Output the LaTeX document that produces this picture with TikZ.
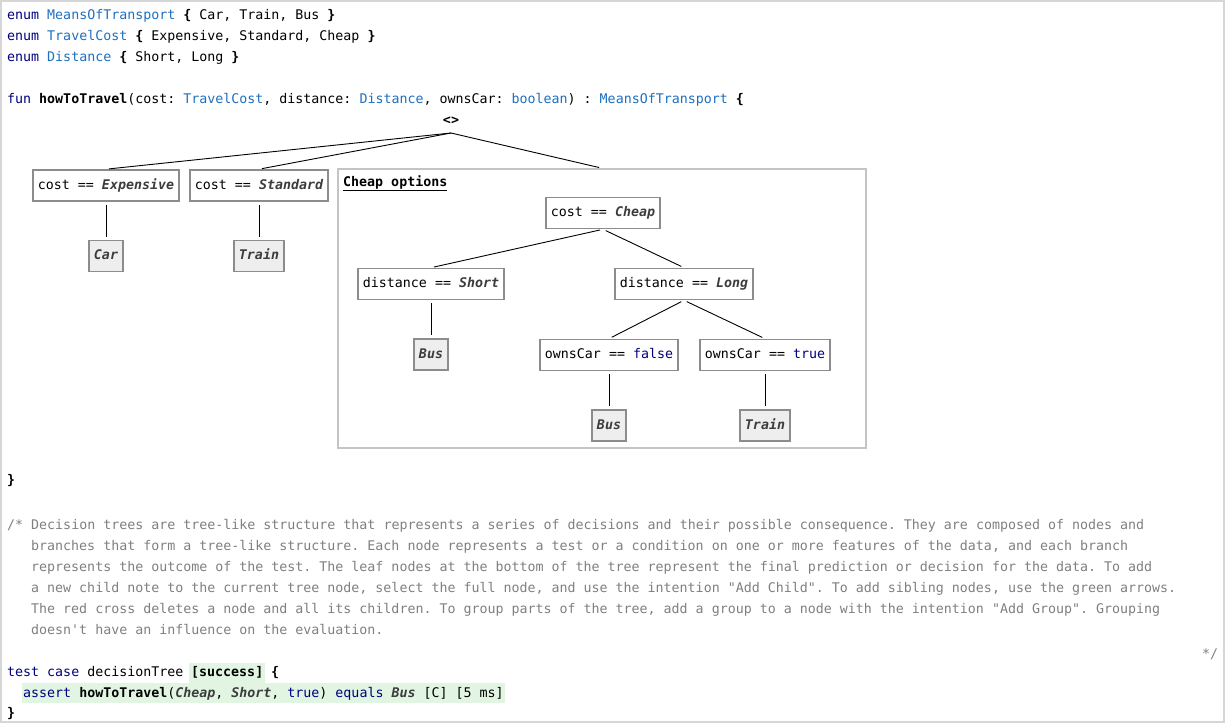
\documentclass[tikz,border=0pt]{standalone}
\usepackage{fontspec}
\setmonofont{DejaVu Sans Mono}
\usetikzlibrary{positioning}
\usepackage{xcolor}
\definecolor{kwnavy}{RGB}{0,0,128}
\definecolor{refblue}{RGB}{30,112,192}
\definecolor{enumgray}{RGB}{60,60,60}
\definecolor{commentgray}{RGB}{128,128,128}
\definecolor{boxgray}{RGB}{140,140,140}
\definecolor{leafgray}{RGB}{238,238,238}
\definecolor{groupgray}{RGB}{196,196,196}
\definecolor{framegray}{RGB}{214,214,214}
\definecolor{okgreen}{RGB}{226,245,226}
\newcommand{\codefont}{\ttfamily\fontsize{13.3}{21}\selectfont}
\newcommand{\kw}[1]{\textcolor{kwnavy}{#1}}
\newcommand{\tref}[1]{\textcolor{refblue}{#1}}
\newcommand{\eref}[1]{\textcolor{enumgray}{\bfseries\itshape #1}}

\begin{document}
\frenchspacing
\begin{tikzpicture}[x=1pt, y=-1pt,
    node distance=38pt,
    codeline/.style={anchor=base west, inner sep=0pt, font=\codefont},
    condbox/.style={rectangle, draw=boxgray, line width=1.6pt, fill=white, font=\codefont,
                    inner xsep=5pt, inner ysep=0pt, minimum height=31pt,
                    text height=9.5pt, text depth=2.5pt},
    leafbox/.style={condbox, fill=leafgray},
    okmark/.style={fill=okgreen, inner xsep=2pt, inner ysep=3pt, text height=11pt, text depth=3pt},
    branch/.style={line width=0.9pt, shorten <=3pt, shorten >=3pt}
]
    \useasboundingbox[fill=white] (0,0) rectangle (1226,726);
    \draw[framegray, line width=2pt] (1,1) rectangle (1224,722);

    % declarations
    \node[codeline] (enumA) at (7,19.5) {\kw{enum} \tref{MeansOfTransport} \textbf{\{} Car, Train, Bus \textbf{\}}};
    \node[codeline] (enumB) at (7,40.5) {\kw{enum} \tref{TravelCost} \textbf{\{} Expensive, Standard, Cheap \textbf{\}}};
    \node[codeline] (enumC) at (7,61.5) {\kw{enum} \tref{Distance} \textbf{\{} Short, Long \textbf{\}}};
    \node[codeline] (fun) at (7,103.5) {\kw{fun} \textbf{howToTravel}(cost: \tref{TravelCost}, distance: \tref{Distance}, ownsCar: \tref{boolean}) : \tref{MeansOfTransport} \textbf{\{}};

    % decision tree
    \node[font=\codefont\bfseries, inner sep=0pt] (root) at (451,121) {<>};
    \node[condbox] (cexp) at (106,185.5) {cost == \eref{Expensive}};
    \node[condbox] (cstd) at (259,185.5) {cost == \eref{Standard}};
    \node[leafbox, below=of cexp] (car) {\eref{Car}};
    \node[leafbox, below=of cstd] (train) {\eref{Train}};

    \node[draw=groupgray, line width=1.6pt, minimum width=528pt, minimum height=279pt, inner sep=0pt] (grp) at (602,308.5) {};
    \node[codeline, font=\codefont\bfseries] (grplbl) at (343,186) {\underline{Cheap options}};
    \node[condbox] (cchp) at (603,213) {cost == \eref{Cheap}};
    \node[condbox] (dshort) at (431,284) {distance == \eref{Short}};
    \node[condbox] (dlong) at (684,284) {distance == \eref{Long}};
    \node[leafbox, below=of dshort] (bus) {\eref{Bus}};
    \node[condbox] (ofalse) at (609,355) {ownsCar == \kw{false}};
    \node[condbox] (otrue) at (765,355) {ownsCar == \kw{true}};
    \node[leafbox, below=of ofalse] (busb) {\eref{Bus}};
    \node[leafbox, below=of otrue] (trainb) {\eref{Train}};

    \draw[branch, shorten <=0pt] ([yshift=-12pt]root.center) -- (cexp.north);
    \draw[branch, shorten <=0pt] ([yshift=-12pt]root.center) -- (cstd.north);
    \draw[branch, shorten <=0pt] ([yshift=-12pt]root.center) -- (grp.north);
    \draw[branch] (cexp) -- (car); \draw[branch] (cstd) -- (train);
    \draw[branch] (cchp.south) -- (dshort.north); \draw[branch] (cchp.south) -- (dlong.north);
    \draw[branch] (dshort) -- (bus);
    \draw[branch] (dlong.south) -- (ofalse.north); \draw[branch] (dlong.south) -- (otrue.north);
    \draw[branch] (ofalse) -- (busb); \draw[branch] (otrue) -- (trainb);

    \node[codeline, font=\codefont\bfseries] (funend) at (7,484.5) {\}};

    % comment
    \begin{scope}[every node/.append style={text=commentgray, font=\codefont\itshape}]
    \node[codeline] (cmtA) at (7,529.5) {/* Decision trees are tree-like structure that represents a series of decisions and their possible consequence. They are composed of nodes and};
    \node[codeline] (cmtB) at (31,550.5) {branches that form a tree-like structure. Each node represents a test or a condition on one or more features of the data, and each branch};
    \node[codeline] (cmtC) at (31,571.5) {represents the outcome of the test. The leaf nodes at the bottom of the tree represent the final prediction or decision for the data. To add};
    \node[codeline] (cmtD) at (31,592.5) {a new child note to the current tree node, select the full node, and use the intention "Add Child". To add sibling nodes, use the green arrows.};
    \node[codeline] (cmtE) at (31,613.5) {The red cross deletes a node and all its children. To group parts of the tree, add a group to a node with the intention "Add Group". Grouping};
    \node[codeline] (cmtF) at (31,634.5) {doesn't have an influence on the evaluation.};
    \node[codeline] (cmtend) at (1202,658.5) {*/};
    \end{scope}

    % test case
    \node[codeline] (tcase) at (7,676.5) {\kw{test case} decisionTree};
    \node[codeline, okmark] (succ) at (189,676.5) {\textbf{[success]}};
    \node[codeline] (tbrace) at (271,676.5) {\textbf{\{}};
    \node[codeline, okmark, inner xsep=1pt] (assert) at (22,697) {\kw{assert} \textbf{howToTravel}(\eref{Cheap}, \eref{Short}, \kw{true}) \kw{equals} \eref{Bus} [C] [5 ms]};
    \node[codeline, font=\codefont\bfseries] (tend) at (7,717.5) {\}};
\end{tikzpicture}
\end{document}
